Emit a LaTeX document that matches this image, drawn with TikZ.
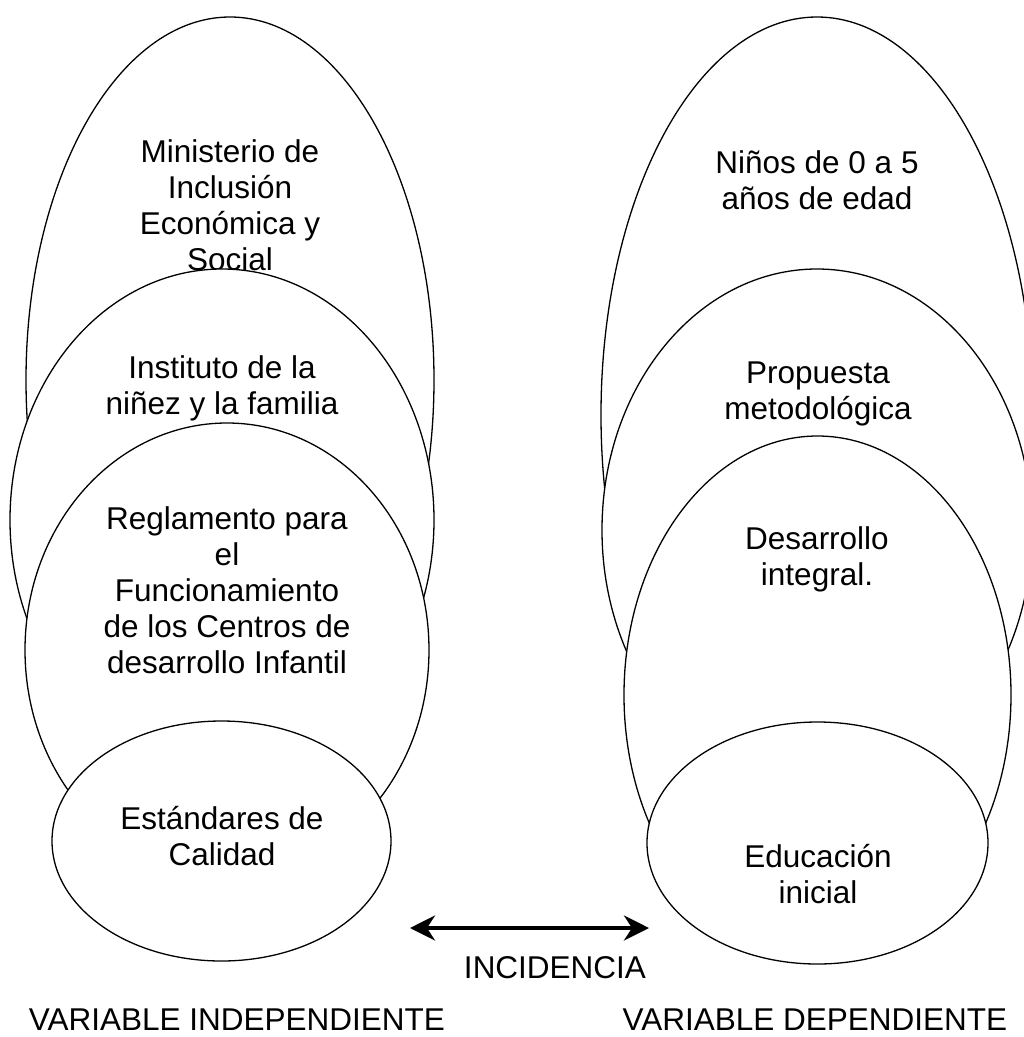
\documentclass[tikz,border=0pt]{standalone}
\usepackage{fontspec}
\setmainfont{Liberation Sans}
\usetikzlibrary{shapes.geometric,arrows.meta}
\newcommand\mlines[1]{\begin{tabular}[t]{@{}c@{}}#1\end{tabular}}
\begin{document}
\begin{tikzpicture}[x=1pt,y=-1pt,
  oval/.style={ellipse, draw=black, line width=1.3pt, fill=white, inner sep=0pt, outer sep=0pt},
  txt/.style={inner sep=0pt, anchor=base, font=\fontsize{31.5}{36.2}\selectfont},
  conn/.style={line width=4pt, {Stealth[length=25pt,width=25pt,inset=8pt]}-{Stealth[length=25pt,width=25pt,inset=8pt]}}]
\useasboundingbox (0,0) rectangle (1024,1037);
% left group
\node[oval, minimum width=408pt, minimum height=726pt] (L1) at (230,380) {};
\node[txt] (tL1) at (230,162) {\mlines{Ministerio de\\Inclusión\\Económica y\\Social}};
\node[oval, minimum width=424pt, minimum height=502pt] (L2) at (222,520) {};
\node[txt] (tL2) at (222,378) {\mlines{Instituto de la\\niñez y la familia}};
\node[oval, minimum width=404pt, minimum height=454pt] (L3) at (227,650) {};
\node[txt] (tL3) at (227,529) {\mlines{Reglamento para\\el\\Funcionamiento\\de los Centros de\\desarrollo Infantil}};
\node[oval, minimum width=339pt, minimum height=240pt] (L4) at (221.5,841) {};
\node[txt] (tL4) at (222,829) {\mlines{Estándares de\\Calidad}};
% right group
\node[oval, minimum width=432pt, minimum height=796pt] (R1) at (817,415) {};
\node[txt] (tR1) at (817,173) {\mlines{Niños de 0 a 5\\años de edad}};
\node[oval, minimum width=430pt, minimum height=522pt] (R2) at (817,530) {};
\node[txt] (tR2) at (818,383) {\mlines{Propuesta\\metodológica}};
\node[oval, minimum width=387pt, minimum height=518pt] (R3) at (817.5,695) {};
\node[txt] (tR3) at (817,549) {\mlines{Desarrollo\\integral.}};
\node[oval, minimum width=341pt, minimum height=242pt] (R4) at (817.5,843) {};
\node[txt] (tR4) at (818,867) {\mlines{Educación\\inicial}};
% arrow
\coordinate (aL) at (410,928);
\coordinate (aR) at (649,928);
\draw[conn] (aL) -- (aR);
\node[txt] (inc) at (555,978) {INCIDENCIA};
\node[txt] (vi) at (237,1030) {VARIABLE INDEPENDIENTE};
\node[txt] (vd) at (815,1030) {VARIABLE DEPENDIENTE};
\end{tikzpicture}
\end{document}
